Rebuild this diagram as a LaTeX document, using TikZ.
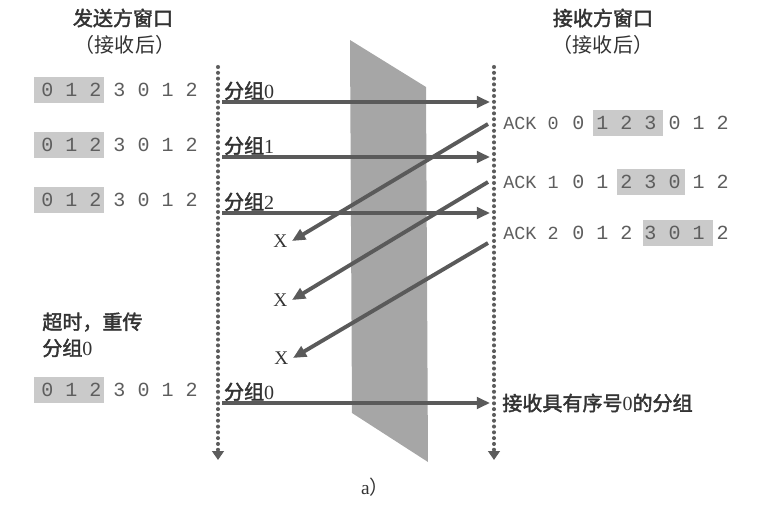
\documentclass[tikz,border=0pt]{standalone}
\usepackage{fontspec}
\setmainfont{Liberation Serif}
\setmonofont{Liberation Mono}
\newfontfamily\cjk{Noto Sans CJK SC}
\newfontfamily\cjkbf[FakeBold=2]{Noto Sans CJK SC}
\usetikzlibrary{arrows.meta}
\definecolor{arrowgray}{HTML}{5A5A5A}
\definecolor{dotgray}{HTML}{5C5C5C}
\definecolor{wallgray}{HTML}{A6A6A6}
\definecolor{wingray}{HTML}{CACACA}
\definecolor{digitgray}{HTML}{5E5E5E}
\definecolor{txtgray}{HTML}{333333}

\begin{document}
\begin{tikzpicture}[
		pkt/.style={draw=arrowgray, line width=2.2pt, -{Triangle[length=7.5pt,width=6.5pt]}},
		timeline/.style={draw=dotgray, line width=2.3pt, line cap=round, dash pattern=on 0pt off 3.3pt, -{Triangle[length=5pt,width=6.5pt]}},
		seqrow/.style={anchor=west, inner sep=0pt, text=digitgray, font=\fontsize{11.4}{13}\ttfamily},
		acklbl/.style={anchor=west, inner sep=0pt, text=digitgray, font=\fontsize{10.5}{13}\ttfamily},
		win/.style={fill=wingray},
		wall/.style={fill=wallgray},
		hdr/.style={text=txtgray, font=\fontsize{11.4}{14}\cjkbf},
		note/.style={anchor=west, inner sep=0pt, text=txtgray, font=\fontsize{11.4}{14}\cjkbf},
		pktlbl/.style={text=txtgray, inner sep=1pt, label distance=0pt, font=\fontsize{11.4}{14}\selectfont},
		xlbl/.style={text=txtgray, inner sep=1pt, label distance=1.5pt, font=\fontsize{11}{13}\selectfont}
	]
			\useasboundingbox (0,0) rectangle (15.14,10.12);
			% the channel
			\fill [wall] (7.0,9.32) -- (8.52,8.38) -- (8.56,0.88) -- (7.04,1.86) -- cycle;
			% headers
			\node [hdr] (sHead) at (2.46,9.76) {发送方窗口};
			\node [hdr, font=\fontsize{11.4}{14}\cjk] (sSub) at (2.50,9.22) {（接收后）};
			\node [hdr] (rHead) at (12.06,9.76) {接收方窗口};
			\node [hdr, font=\fontsize{11.4}{14}\cjk] (rSub) at (12.06,9.22) {（接收后）};
			% time lines
			\coordinate (sTop) at (4.36,8.78);
			\coordinate (sBot) at (4.36,0.92);
			\coordinate (rTop) at (9.88,8.78);
			\coordinate (rBot) at (9.88,0.92);
			\draw [timeline] (sTop) -- (sBot);
			\draw [timeline] (rTop) -- (rBot);
			% sender windows
			\fill [win] (0.68,8.06) rectangle (2.08,8.58);
				\node [seqrow] (sw0) at (0.82,8.32) {0 1 2 3 0 1 2};
			\fill [win] (0.68,6.96) rectangle (2.08,7.48);
				\node [seqrow] (sw1) at (0.82,7.22) {0 1 2 3 0 1 2};
			\fill [win] (0.68,5.86) rectangle (2.08,6.38);
				\node [seqrow] (sw2) at (0.82,6.12) {0 1 2 3 0 1 2};
			\fill [win] (0.68,2.06) rectangle (2.08,2.58);
				\node [seqrow] (sw3) at (0.82,2.32) {0 1 2 3 0 1 2};
			\node [note] (tout) at (0.84,3.68) {超时，重传};
			\node [note] (tout2) at (0.84,3.16) {分组\fontspec{Liberation Serif}0};
			% receiver windows
			\fill [win] (11.86,7.40) rectangle (13.26,7.92);
				\node [acklbl] (ack0) at (10.06,7.66) {ACK 0};
				\node [seqrow] (rw0) at (11.44,7.66) {0 1 2 3 0 1 2};
			\fill [win] (12.34,6.22) rectangle (13.70,6.74);
				\node [acklbl] (ack1) at (10.06,6.48) {ACK 1};
				\node [seqrow] (rw1) at (11.44,6.48) {0 1 2 3 0 1 2};
			\fill [win] (12.86,5.20) rectangle (14.26,5.72);
				\node [acklbl] (ack2) at (10.06,5.46) {ACK 2};
				\node [seqrow] (rw2) at (11.44,5.46) {0 1 2 3 0 1 2};
			% packets
			\coordinate [label={[pktlbl]above right:{\cjkbf 分组}0}] (p0) at (4.44,8.08);
				\coordinate (q0) at (9.80,8.08);
			\coordinate [label={[pktlbl]above right:{\cjkbf 分组}1}] (p1) at (4.44,6.98);
				\coordinate (q1) at (9.80,6.98);
			\coordinate [label={[pktlbl]above right:{\cjkbf 分组}2}] (p2) at (4.44,5.86);
				\coordinate (q2) at (9.80,5.86);
			\coordinate [label={[pktlbl]above right:{\cjkbf 分组}0}] (p3) at (4.44,2.06);
				\coordinate (q3) at (9.80,2.06);
			\draw [pkt] (p0) -- (q0);
			\draw [pkt] (p1) -- (q1);
			\draw [pkt] (p2) -- (q2);
			\draw [pkt] (p3) -- (q3);
			\node [note] (got) at (10.04,2.06) {接收具有序号\fontspec{Liberation Serif}0\cjkbf 的分组};
			% lost acks
			\coordinate (a0) at (9.76,7.64);
			\coordinate (a1) at (9.76,6.48);
			\coordinate (a2) at (9.76,5.26);
			\coordinate [label={[xlbl]left:X}] (x0) at (5.84,5.30);
			\coordinate [label={[xlbl]left:X}] (x1) at (5.84,4.12);
			\coordinate [label={[xlbl]left:X}] (x2) at (5.86,2.96);
			\draw [pkt] (a0) -- (x0);
			\draw [pkt] (a1) -- (x1);
			\draw [pkt] (a2) -- (x2);
			\node [text=txtgray, font=\fontsize{11}{13}\selectfont] (cap) at (7.5,0.38) {a{\cjk ）}};
		\end{tikzpicture}
\end{document}
